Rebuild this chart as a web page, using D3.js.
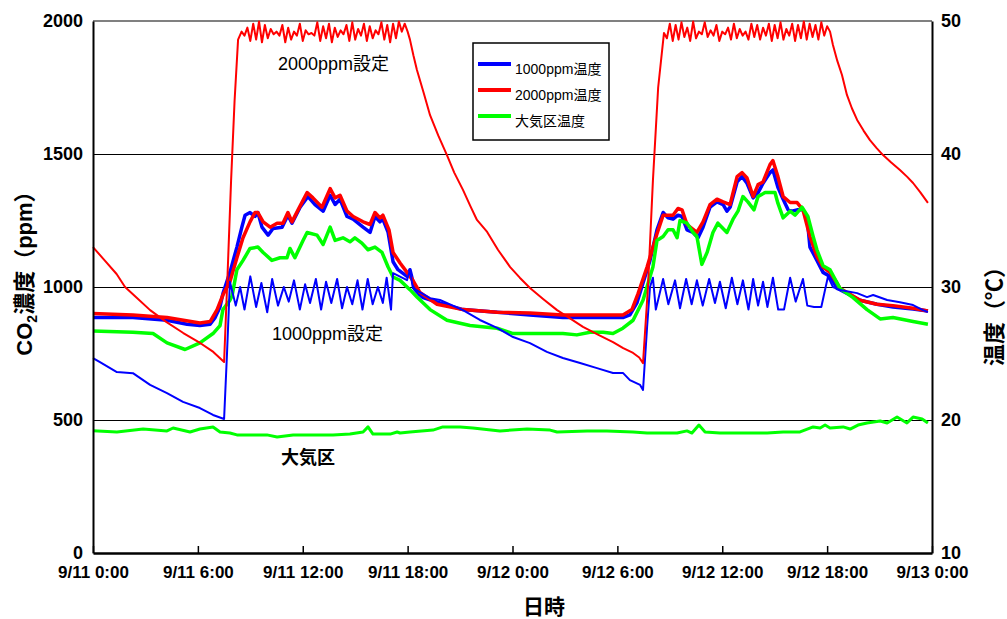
<!DOCTYPE html>
<html>
<head>
<meta charset="utf-8">
<script src="https://cdn.jsdelivr.net/npm/d3@7"></script>
<style>
  body { margin: 0; background: #fff; }
  svg { display: block; }
</style>
</head>
<body>
<script>
// time is minutes from 9/11 0:00
const timeTicks = [0, 360, 720, 1080, 1440, 1800, 2160, 2520, 2880];
const timeLabels = ["9/11 0:00", "9/11 6:00", "9/11 12:00", "9/11 18:00", "9/12 0:00",
                    "9/12 6:00", "9/12 12:00", "9/12 18:00", "9/13 0:00"];
const co2Ticks = [0, 500, 1000, 1500, 2000];
const tempTicks = [10, 20, 30, 40, 50];

// CO2 (ppm) - 2000ppm plot
const co2High = [
  [0,1150],[40,1100],[81,1049],[110,1000],[150,960],[196,913],[250,870],[310,827],[360,795],[413,756],[450,718],
  [462,1050],[474,1400],[486,1700],[498,1930],
  [510,1960],[520,1945],[530,1975],[540,1925],[550,1990],[560,1930],[570,1998],[580,1920],[590,1985],[600,1935],
  [610,1970],[620,1950],[630,1960],[640,1945],[650,1985],[660,1920],[670,1975],[680,1930],[690,1960],[700,1945],
  [710,1990],[720,1925],[730,1965],[740,1950],[750,1955],[760,1945],[770,1995],[780,1925],[790,1980],[800,1935],
  [810,1990],[820,1920],[830,1975],[840,1940],[850,1965],[860,1950],[870,1985],[880,1925],[890,1995],[900,1930],
  [910,1970],[920,1945],[930,1990],[940,1925],[950,1980],[960,1935],[970,1965],[980,1950],[990,1995],[1000,1930],
  [1010,1985],[1020,1920],[1030,1990],[1040,1935],[1050,1998],[1060,1960],[1070,1990],
  [1080,1960],[1088,1930],[1100,1870],[1112,1816],[1135,1730],[1157,1646],[1185,1570],[1215,1496],[1240,1430],
  [1270,1365],[1295,1305],[1318,1252],[1353,1207],[1390,1140],[1432,1075],[1465,1035],[1500,996],[1545,955],
  [1593,913],[1640,880],[1682,850],[1735,820],[1785,793],[1820,770],[1854,752],[1875,735],[1888,714],
  [1905,1000],[1922,1400],[1940,1750],
  [1960,1955],[1970,1935],[1980,1990],[1990,1925],[2000,1985],[2010,1930],[2020,1995],[2030,1940],[2040,1975],
  [2050,1925],[2060,1998],[2070,1935],[2080,1960],[2090,1950],[2100,1995],[2110,1940],[2120,1965],[2130,1945],
  [2140,1985],[2150,1925],[2160,1960],[2170,1950],[2180,1975],[2190,1930],[2200,1990],[2210,1935],[2220,1970],
  [2230,1945],[2240,1960],[2250,1930],[2260,1990],[2270,1940],[2280,1985],[2290,1930],[2300,1975],[2310,1945],
  [2320,1990],[2330,1925],[2340,1985],[2350,1935],[2360,1995],[2370,1930],[2380,1970],[2390,1945],[2400,1990],
  [2410,1925],[2420,1985],[2430,1935],[2440,1998],[2450,1930],[2460,1990],[2470,1940],[2480,1985],[2490,1930],
  [2500,1995],[2510,1945],[2520,1980],[2530,1960],
  [2540,1910],[2555,1850],[2571,1797],[2588,1722],[2605,1672],[2623,1628],[2645,1588],[2667,1552],[2690,1522],
  [2712,1496],[2740,1468],[2770,1440],[2795,1414],[2815,1391],[2840,1356],[2866,1316]
];

// CO2 (ppm) - 1000ppm plot
const co2Low = [
  [0,733],[24,718],[82,680],[137,676],[196,632],[254,601],[309,568],[367,545],[412,519],[450,504],
  [460,750],[470,1020],[490,930],[505,1000],[520,915],[540,1040],[560,925],[578,1015],[598,905],[615,1030],
  [635,930],[655,1000],[672,945],[690,1025],[710,915],[728,1010],[745,940],[765,1030],[783,915],[800,1020],
  [818,940],[838,1030],[855,920],[872,1000],[890,935],[908,1025],[925,915],[943,1030],[960,935],[978,1000],
  [995,940],[1008,1035],[1023,915],
  [1030,1052],[1078,1026],[1088,1064],[1098,996],[1157,958],[1191,951],[1270,913],[1328,876],[1387,846],
  [1442,812],[1500,789],[1558,756],[1613,733],[1672,714],[1730,695],[1785,677],[1819,677],[1843,650],
  [1878,632],[1888,613],
  [1902,850],[1912,1000],[1922,1035],[1932,915],[1957,1030],[1975,935],[1998,1025],[2015,920],[2036,1030],
  [2055,935],[2073,1025],[2093,930],[2115,1030],[2135,940],[2152,1020],[2172,920],[2193,1035],[2212,935],
  [2231,1025],[2250,915],[2266,1030],[2283,930],[2300,1020],[2315,925],[2334,1035],[2352,915],[2372,915],
  [2393,1035],[2412,945],[2437,1030],[2452,930],[2475,925],[2500,925],[2523,1040],[2540,1000],
  [2564,989],[2623,977],[2657,962],[2678,970],[2726,951],[2770,943],[2815,932],[2849,913],[2866,906]
];

// CO2 (ppm) - 大気区
const co2Air = [
  [0,460],[82,455],[172,466],[254,459],[275,470],[333,455],[367,466],[412,474],[436,455],[470,451],[494,444],
  [597,444],[632,436],[687,444],[824,444],[882,447],[927,455],[944,474],[961,447],[1020,447],[1044,455],
  [1054,451],[1088,455],[1167,462],[1201,474],[1260,474],[1304,470],[1397,459],[1490,466],[1569,462],
  [1593,455],[1696,459],[1764,459],[1854,455],[1902,451],[2005,451],[2039,459],[2056,451],[2080,481],
  [2101,455],[2152,451],[2314,451],[2369,455],[2427,455],[2472,474],[2496,470],[2513,481],[2530,470],
  [2575,474],[2599,466],[2626,481],[2657,489],[2702,496],[2726,489],[2760,511],[2794,489],[2815,511],
  [2846,504],[2866,489]
];

// temperature (°C)
const tempLow = [
  [0,27.7],[137,27.7],[254,27.5],[323,27.2],[367,27.1],[402,27.2],[419,27.7],[436,28.5],[446,29.5],[470,31.1],
  [494,33.0],[511,34.5],[522,35.4],[539,35.6],[556,35.3],[566,35.6],[580,34.5],[601,33.9],[618,34.4],[649,34.5],
  [669,35.4],[683,34.8],[711,36.0],[738,36.8],[762,36.2],[790,35.7],[814,36.9],[831,36.2],[848,36.6],[872,35.3],
  [893,35.1],[927,34.5],[951,34.1],[968,35.3],[985,34.9],[995,35.1],[1013,34.1],[1030,31.9],[1047,31.3],
  [1078,30.8],[1088,31.3],[1105,29.8],[1122,29.4],[1133,29.2],[1191,28.8],[1270,28.3],[1387,28.1],[1500,27.9],
  [1613,27.7],[1730,27.7],[1819,27.7],[1843,27.9],[1867,28.8],[1888,30.3],[1912,32.0],[1936,34.3],[1957,35.6],
  [1974,35.2],[1991,35.1],[2008,35.4],[2022,35.3],[2039,34.3],[2060,34.1],[2077,33.7],[2094,34.5],[2118,36.0],
  [2142,36.4],[2163,36.2],[2176,35.7],[2187,36.0],[2211,37.9],[2228,38.3],[2245,37.8],[2266,36.7],[2283,37.1],
  [2300,37.8],[2324,38.6],[2334,38.8],[2351,37.5],[2369,36.6],[2386,35.8],[2399,35.7],[2417,35.8],[2437,35.8],
  [2451,35.3],[2461,33.0],[2485,32.0],[2506,31.1],[2530,30.8],[2554,29.9],[2564,29.8],[2633,29.0],[2691,28.7],
  [2746,28.5],[2815,28.35],[2866,28.2]
];

const tempHigh = [
  [0,28.0],[137,27.9],[254,27.7],[367,27.3],[402,27.4],[426,28.3],[446,29.4],[470,30.4],[494,32.2],[515,33.7],
  [539,34.9],[556,35.6],[566,35.6],[584,34.9],[608,34.5],[632,34.8],[652,34.8],[669,35.6],[683,34.9],[704,35.8],
  [735,37.1],[755,36.7],[786,36.0],[814,37.4],[831,36.7],[848,36.9],[872,35.7],[893,35.3],[927,34.9],[951,34.7],
  [968,35.6],[985,35.2],[995,35.4],[1016,34.3],[1030,32.6],[1054,31.8],[1078,31.1],[1098,30.5],[1122,29.6],
  [1181,28.7],[1270,28.3],[1387,28.1],[1500,28.05],[1613,27.9],[1730,27.9],[1819,27.9],[1850,28.3],[1871,29.5],
  [1902,31.5],[1936,34.0],[1957,35.4],[1974,35.4],[1991,35.4],[2008,35.9],[2022,35.8],[2039,34.7],[2073,34.1],
  [2094,34.9],[2118,36.2],[2142,36.6],[2163,36.4],[2187,36.2],[2211,38.3],[2228,38.6],[2245,38.2],[2266,36.8],
  [2283,37.7],[2300,37.9],[2324,39.2],[2334,39.5],[2351,38.3],[2369,36.8],[2393,36.35],[2417,36.35],[2437,35.8],
  [2461,33.8],[2485,32.3],[2506,31.5],[2530,31.1],[2554,30.3],[2564,29.9],[2633,29.0],[2691,28.7],[2746,28.6],
  [2815,28.4],[2866,28.2]
];

const tempAir = [
  [0,26.7],[137,26.6],[206,26.5],[254,25.8],[316,25.3],[367,25.8],[412,26.5],[436,27.1],[446,28.3],[470,29.0],
  [477,29.3],[494,31.3],[515,32.0],[539,32.9],[566,33.0],[584,32.6],[614,32.0],[642,32.2],[666,32.2],[676,32.9],
  [693,32.2],[721,33.5],[735,34.1],[769,33.9],[790,33.2],[814,34.5],[831,33.5],[858,33.7],[882,33.4],[899,33.7],
  [923,33.3],[944,32.8],[968,33.0],[992,32.6],[1013,31.5],[1030,30.75],[1054,30.5],[1088,29.8],[1112,29.25],
  [1157,28.3],[1215,27.5],[1294,27.1],[1387,26.9],[1442,26.5],[1500,26.5],[1613,26.5],[1661,26.4],[1706,26.6],
  [1751,26.6],[1785,26.5],[1819,26.9],[1854,27.5],[1888,29.0],[1922,31.5],[1936,33.5],[1957,33.8],[1974,34.3],
  [1991,34.3],[2005,33.7],[2015,35.0],[2039,34.8],[2060,34.1],[2073,33.8],[2090,31.7],[2108,32.6],[2128,34.1],
  [2145,34.8],[2176,34.1],[2197,35.1],[2214,35.7],[2231,36.8],[2248,36.4],[2269,35.8],[2283,36.8],[2307,37.1],
  [2324,37.1],[2341,37.1],[2351,36.3],[2369,35.2],[2393,35.7],[2410,35.4],[2434,36.0],[2454,35.3],[2472,33.8],
  [2485,32.8],[2506,31.6],[2530,31.3],[2564,29.9],[2609,29.2],[2657,28.3],[2702,27.6],[2746,27.7],[2815,27.4],
  [2866,27.2]
];

const legendLabels = ["1000ppm温度", "2000ppm温度", "大気区温度"];
const legendColors = ["#0000ff", "#ff0000", "#00ff00"];

const FONT = '"Liberation Sans", Arial, "Noto Sans CJK JP", sans-serif';
const width = 1007, height = 619;
const margin = { top: 21, right: 75, bottom: 66, left: 93 };

const svg = d3.select('body').append('svg')
  .attr('width', width)
  .attr('height', height)
  .attr('font-family', FONT);

const x = d3.scaleLinear().domain([0, 2880]).range([margin.left, width - margin.right]);
const yL = d3.scaleLinear().domain([0, 2000]).range([height - margin.bottom, margin.top]);
const yR = d3.scaleLinear().domain([10, 50]).range([height - margin.bottom, margin.top]);

// gridlines
svg.append('g')
  .attr('shape-rendering', 'crispEdges')
  .selectAll('line')
  .data(co2Ticks.slice(1, -1))
  .join('line')
  .attr('x1', x(0)).attr('x2', x(2880))
  .attr('y1', d => yL(d)).attr('y2', d => yL(d))
  .attr('stroke', '#000')
  .attr('stroke-width', 1);

// top border
svg.append('line')
  .attr('x1', x(0)).attr('x2', x(2880))
  .attr('y1', yL(2000)).attr('y2', yL(2000))
  .attr('stroke', '#808080')
  .attr('stroke-width', 2);

const lineL = d3.line().x(d => x(d[0])).y(d => yL(d[1]));
const lineR = d3.line().x(d => x(d[0])).y(d => yR(d[1]));

const plot = svg.append('g').attr('fill', 'none').attr('stroke-linejoin', 'round');

// temperatures (thick)
plot.append('path').datum(tempLow).attr('d', lineR).attr('stroke', '#0000ff').attr('stroke-width', 3.5);
plot.append('path').datum(tempHigh).attr('d', lineR).attr('stroke', '#ff0000').attr('stroke-width', 3.5);
plot.append('path').datum(tempAir).attr('d', lineR).attr('stroke', '#00ff00').attr('stroke-width', 3.5);

// CO2 (thin)
plot.append('path').datum(co2Low).attr('d', lineL).attr('stroke', '#0000ff').attr('stroke-width', 2);
plot.append('path').datum(co2High).attr('d', lineL).attr('stroke', '#ff0000').attr('stroke-width', 2);
plot.append('path').datum(co2Air).attr('d', lineL).attr('stroke', '#00ff00').attr('stroke-width', 3);

// axes
const xAxis = svg.append('g')
  .attr('transform', `translate(0,${height - margin.bottom})`)
  .call(d3.axisBottom(x).tickValues(timeTicks).tickSizeInner(-7).tickSizeOuter(0)
    .tickPadding(13).tickFormat((d, i) => timeLabels[i]));

const leftAxis = svg.append('g')
  .attr('transform', `translate(${margin.left},0)`)
  .call(d3.axisLeft(yL).tickValues(co2Ticks).tickSize(0).tickPadding(10).tickFormat(d3.format('d')));

const rightAxis = svg.append('g')
  .attr('transform', `translate(${width - margin.right},0)`)
  .call(d3.axisRight(yR).tickValues(tempTicks).tickSize(0).tickPadding(9).tickFormat(d3.format('d')));

[xAxis, leftAxis, rightAxis].forEach(g => {
  g.attr('font-family', FONT).attr('font-weight', 'bold');
  g.select('.domain').attr('stroke', '#000').attr('stroke-width', 2);
  g.selectAll('.tick line').attr('stroke', '#000').attr('stroke-width', 1.5);
  g.selectAll('text').attr('fill', '#000');
});
xAxis.attr('font-size', 17);
leftAxis.attr('font-size', 18);
rightAxis.attr('font-size', 18);
xAxis.select('.domain').attr('stroke-width', 2.5);

// axis titles
const yTitle = svg.append('text')
  .attr('transform', 'translate(32,268) rotate(-90)')
  .attr('text-anchor', 'middle')
  .attr('font-size', 22)
  .attr('font-weight', 'bold');
yTitle.append('tspan').text('CO');
yTitle.append('tspan').attr('font-size', 14).attr('dy', 5).text('2');
yTitle.append('tspan').attr('dy', -5).text('濃度（ppm）');

svg.append('text')
  .attr('transform', 'translate(1002,311) rotate(-90)')
  .attr('text-anchor', 'middle')
  .attr('font-size', 22)
  .attr('font-weight', 'bold')
  .text('温度（℃）');

svg.append('text')
  .attr('x', 544).attr('y', 614)
  .attr('text-anchor', 'middle')
  .attr('font-size', 21)
  .attr('font-weight', 'bold')
  .text('日時');

// annotations
svg.append('text').attr('x', 278).attr('y', 70).attr('font-size', 18).text('2000ppm設定');
svg.append('text').attr('x', 272).attr('y', 340).attr('font-size', 18).text('1000ppm設定');
svg.append('text').attr('x', 281).attr('y', 464).attr('font-size', 18).attr('font-weight', 'bold').text('大気区');

// legend
const legend = svg.append('g').attr('transform', 'translate(473,43)');
legend.append('rect')
  .attr('width', 136).attr('height', 97)
  .attr('fill', '#fff').attr('stroke', '#000').attr('stroke-width', 1.5);
const items = legend.selectAll('g.item')
  .data(legendLabels)
  .join('g')
  .attr('class', 'item')
  .attr('transform', (d, i) => `translate(0,${21 + i * 26})`);
items.append('line')
  .attr('x1', 5).attr('x2', 38)
  .attr('stroke', (d, i) => legendColors[i])
  .attr('stroke-width', 4);
items.append('text')
  .attr('x', 42).attr('y', 10)
  .attr('font-size', 14)
  .text(d => d);
</script>
</body>
</html>
